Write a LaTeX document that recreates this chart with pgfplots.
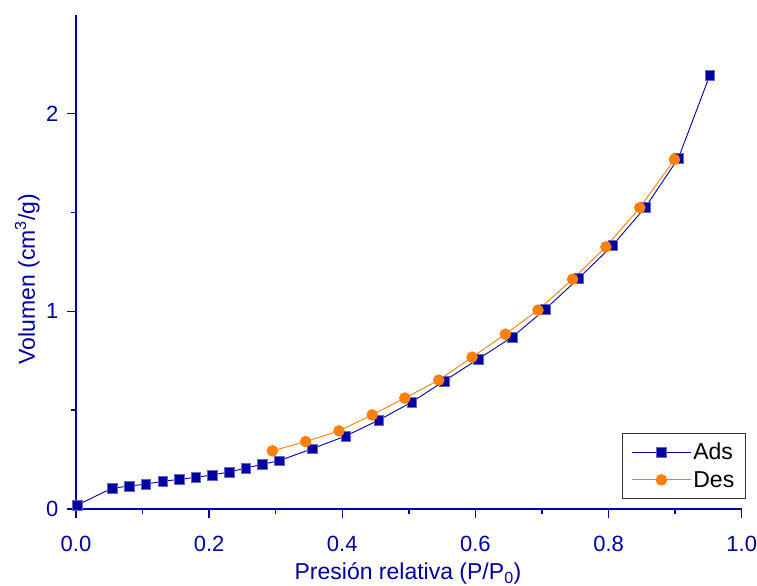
\documentclass[border=0pt]{standalone}
\usepackage{pgfplots}
\pgfplotsset{compat=1.18}
\usepackage{fontspec}
\setmainfont{Liberation Sans}
\definecolor{navyb}{RGB}{0,0,160}
\definecolor{orng}{RGB}{255,128,0}
\begin{document}
\begin{tikzpicture}
\begin{axis}[
  name=ax,
  scale only axis,
  width=665.7bp, height=494.3bp,
  xmin=0, xmax=1, ymin=0, ymax=2.5,
  axis x line=bottom, axis y line=left,
  axis line style={-, navyb, line width=1.3bp},
  every tick/.style={navyb, line width=1.3bp},
  tick align=outside,
  major tick length=9bp, minor tick length=5bp,
  xtick={0,0.2,0.4,0.6,0.8,1.0},
  ytick={0,1,2},
  minor x tick num=1, minor y tick num=1,
  clip=false,
  x tick label style={/pgf/number format/fixed, /pgf/number format/fixed zerofill, /pgf/number format/precision=1, /pgf/number format/assume math mode=true},
  y tick label style={/pgf/number format/fixed, /pgf/number format/precision=0, /pgf/number format/assume math mode=true},
  every x tick label/.append style={font=\fontsize{22bp}{26bp}\selectfont, text=navyb, anchor=base, yshift=-33.7bp},
  every y tick label/.append style={font=\fontsize{22bp}{26bp}\selectfont, text=navyb, xshift=-5bp},
  xlabel={Presión relativa (P/P\textsubscript{0})},
  ylabel={Volumen (cm\textsuperscript{3}/g)},
  every axis x label/.style={at={(332bp,-70.5bp)}, anchor=base, font=\fontsize{23bp}{27bp}\selectfont, text=navyb},
  every axis y label/.style={at={(-41bp,230bp)}, rotate=90, anchor=base, font=\fontsize{23bp}{27bp}\selectfont, text=navyb},
  legend style={at={(669.7bp,10bp)}, anchor=south east, draw=black!80, line width=0.9bp,
    font=\fontsize{23bp}{27bp}\selectfont, inner xsep=9bp, inner ysep=8bp, row sep=6bp,
    cells={anchor=west}},
  legend image code/.code={\draw[#1, mark repeat=2, mark phase=2] plot coordinates {(0bp,0bp) (29.5bp,0bp) (59bp,0bp)};},
]
\addplot[navyb, line width=0.9bp, mark=square*, mark size=4.8bp, mark options={solid, fill=navyb, draw=navyb!60, line width=0.4bp}] coordinates {
(0.002,0.02) (0.054,0.105) (0.080,0.116) (0.105,0.126) (0.130,0.140) (0.155,0.150)
(0.180,0.160) (0.205,0.172) (0.230,0.187) (0.255,0.207) (0.280,0.226) (0.305,0.244)
(0.355,0.305) (0.405,0.369) (0.455,0.450) (0.504,0.540) (0.553,0.647) (0.604,0.758)
(0.655,0.869) (0.705,1.010) (0.755,1.167) (0.806,1.333) (0.855,1.525) (0.905,1.775)
(0.952,2.193)
};
\addlegendentry{Ads}
\addplot[orng, line width=0.9bp, mark=*, mark size=5.3bp, mark options={solid, fill=orng, draw=orng}] coordinates {
(0.295,0.294) (0.345,0.341) (0.395,0.395) (0.445,0.476) (0.494,0.561) (0.545,0.652)
(0.595,0.768) (0.645,0.884) (0.694,1.006) (0.746,1.162) (0.796,1.326) (0.847,1.524)
(0.899,1.768)
};
\addlegendentry{Des}
\end{axis}
\pgfresetboundingbox
\useasboundingbox (-76bp,-77bp) rectangle (681bp,509bp);
\end{tikzpicture}
\end{document}
